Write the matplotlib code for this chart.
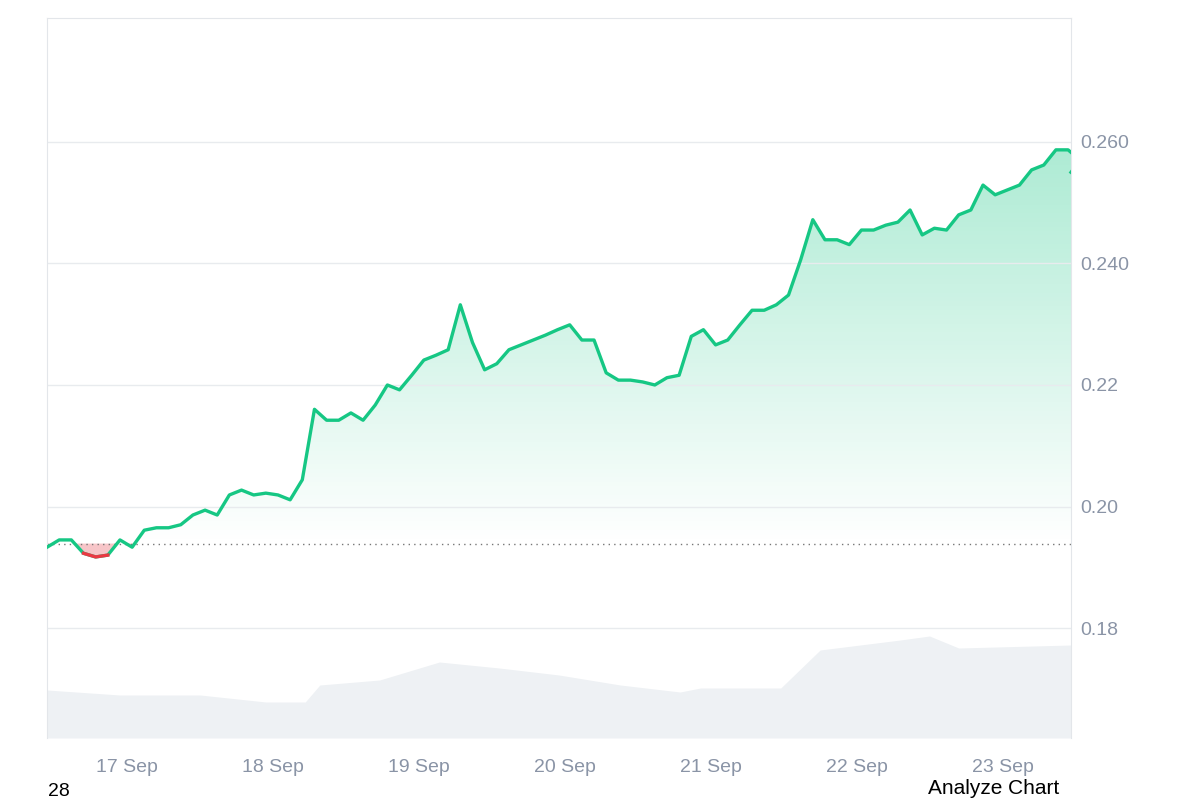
import numpy as np
import matplotlib
matplotlib.use("Agg")
import matplotlib.pyplot as plt
from matplotlib.patches import Polygon
from matplotlib.colors import LinearSegmentedColormap

plt.rcParams['font.family'] = ['Liberation Sans', 'DejaVu Sans']

# time in days since 17 Sep 00:00
start = -0.55
price = [0.1933,0.1945,0.1945,0.1923,0.1917,0.1920,0.1945,0.1933,0.1961,0.1965,
         0.1965,0.1970,0.1986,0.1994,0.1986,0.2019,0.2027,0.2019,0.2022,0.2019,
         0.2011,0.2044,0.2160,0.2142,0.2142,0.2154,0.2142,0.2167,0.2200,0.2192,
         0.2216,0.2241,0.2249,0.2258,0.2332,0.2270,0.2225,0.2235,0.2258,0.2266,
         0.2274,0.2282,0.2291,0.2299,0.2274,0.2274,0.2220,0.2208,0.2208,0.2205,
         0.2200,0.2212,0.2216,0.2280,0.2291,0.2266,0.2274,0.2299,0.2323,0.2323,
         0.2332,0.2348,0.2406,0.2472,0.2439,0.2439,0.2431,0.2455,0.2455,0.2463,
         0.2468,0.2488,0.2447,0.2458,0.2455,0.2480,0.2488,0.2529,0.2513,0.2521,
         0.2529,0.2554,0.2562,0.2587,0.2587,0.2570,0.2550]
vol_t = [-0.55,-0.05,0.5,0.95,1.22,1.32,1.73,2.14,2.55,2.96,3.38,3.79,3.93,4.48,4.75,5.3,5.5,5.7,6.47]
volume = [48,43,43,36,36,53,58,76,70,63,53,46,50,50,88,98,102,90,93]
baseline = 0.1939
xticks = ['17 Sep','18 Sep','19 Sep','20 Sep','21 Sep','22 Sep','23 Sep']

n = len(price)
t = start + np.arange(n) * (1/12)
t[-1] = 6.47
p = np.array(price)

fig = plt.figure(figsize=(12, 8), dpi=100)
ax = fig.add_axes([0.0392, 0.0775, 0.8533, 0.9])
axv = ax.twinx()
axv.set_position(ax.get_position())
axv.fill_between(vol_t, 0, volume, color='#eef1f4', lw=0)
axv.set_ylim(0, 720)
axv.axis('off')
ax.set_zorder(2); ax.patch.set_visible(False)

ax.set_xlim(-0.55, 6.47)
ax.set_ylim(0.1619, 0.2804)
ax.yaxis.tick_right()
ax.set_yticks([0.18, 0.20, 0.22, 0.24, 0.26])
ax.set_yticklabels(['0.18', '0.20', '0.22', '0.240', '0.260'])
ax.set_xticks(range(7))
ax.set_xticklabels(xticks)
ax.tick_params(length=0, labelsize=14, colors='#8a94a6')
ax.tick_params(axis='x', pad=15)
ax.tick_params(axis='y', pad=7)
ax.grid(axis='y', color='#e8ebee', lw=1)
ax.spines['bottom'].set_visible(False)
for s in ['top', 'left', 'right']:
    ax.spines[s].set_color('#e3e6ea')

grad = np.linspace(0, 1, 256).reshape(-1, 1)
cmap = LinearSegmentedColormap.from_list('g', [(0.09, 0.78, 0.52, 0.0), (0.09, 0.78, 0.52, 0.35)])
pa = np.maximum(p, baseline)
verts = np.vstack([np.column_stack([t, pa]), [[t[-1], baseline], [t[0], baseline]]])
poly = Polygon(verts, closed=True, facecolor='none', edgecolor='none')
ax.add_patch(poly)
im = ax.imshow(grad, aspect='auto', cmap=cmap, origin='lower',
               extent=[t[0], t[-1], baseline, p.max()], zorder=1)
im.set_clip_path(poly)
ax.fill_between(t, p, baseline, where=p < baseline, interpolate=True,
                color='#f7c5c8', lw=0, zorder=1)

ax.axhline(baseline, color='#777777', lw=1, ls=(0, (1, 3)), zorder=2)
ax.plot(t, p, color='#16c784', lw=2.4, zorder=3)
pr = np.where(p < baseline + 0.0002, p, np.nan)
ax.plot(t, pr, color='#ea3943', lw=2.4, zorder=4)

fig.text(0.04, 0.0, '28', fontsize=14, va='bottom')
fig.text(0.883, 0.002, 'Analyze Chart', fontsize=15, ha='right', va='bottom')

fig.savefig('out.png', dpi=100)
